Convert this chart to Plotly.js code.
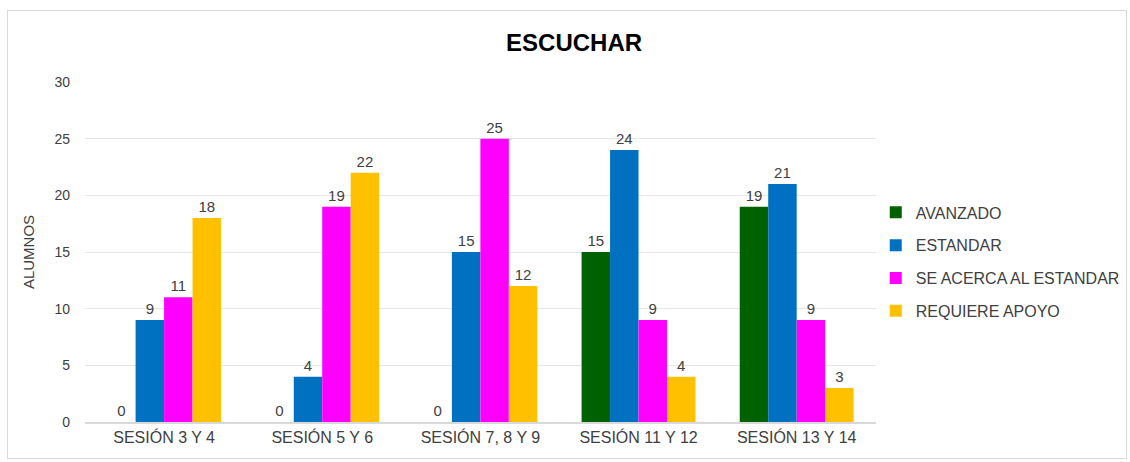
<!DOCTYPE html>
<html>
<head>
<meta charset="utf-8">
<script src="https://cdn.plot.ly/plotly-3.0.1.min.js"></script>
<style>
  html, body { margin: 0; padding: 0; background: #fff; }
  #frame { position: absolute; left: 7px; top: 10px; width: 1120px; height: 449px; border: 1px solid #d9d9d9; box-sizing: border-box; pointer-events: none; z-index: 10; }
  #chart { width: 1130px; height: 462px; }
</style>
</head>
<body>
<div id="frame"></div>
<div id="chart"></div>
<script>
const categories = ["SESIÓN 3 Y 4", "SESIÓN 5 Y 6", "SESIÓN 7, 8 Y 9", "SESIÓN 11 Y 12", "SESIÓN 13 Y 14"];
const seriesNames = ["AVANZADO", "ESTANDAR", "SE ACERCA AL ESTANDAR", "REQUIERE APOYO"];
const avanzado = [0, 0, 0, 15, 19];
const estandar = [9, 4, 15, 24, 21];
const seAcerca = [11, 19, 25, 9, 9];
const requiereApoyo = [18, 22, 12, 4, 3];
const yTicks = [0, 5, 10, 15, 20, 25, 30];

const colors = ["#006100", "#0070C0", "#FF00FF", "#FFC000"];
const values = [avanzado, estandar, seAcerca, requiereApoyo];
const FONT = "Liberation Sans, Arial, sans-serif";

const traces = values.map((v, i) => ({
  type: "bar",
  name: seriesNames[i],
  x: categories,
  y: v,
  text: v.map(String),
  textposition: "outside",
  textfont: { family: FONT, size: 15, color: "#404040" },
  cliponaxis: false,
  marker: { color: colors[i], line: { width: 0 } },
  legendgroup: "g" + i,
  hoverinfo: "x+y+name"
}));

const layout = {
  width: 1130,
  height: 462,
  margin: { l: 85, r: 252, t: 82, b: 40 },
  paper_bgcolor: "#ffffff",
  plot_bgcolor: "#ffffff",
  font: { family: FONT, color: "#404040", size: 14 },
  title: {
    text: "<b>ESCUCHAR</b>",
    font: { family: FONT, size: 24, color: "#000000" },
    x: 0.508, xanchor: "center", y: 0.908, yanchor: "middle"
  },
  barmode: "group",
  bargap: 0.28,
  bargroupgap: 0,
  showlegend: true,
  legend: {
    xref: "container", yref: "container",
    x: 0.775, xanchor: "left", y: 0.433, yanchor: "middle",
    traceorder: "grouped",
    tracegroupgap: 9,
    font: { family: FONT, size: 16, color: "#404040" },
    itemwidth: 30,
    bgcolor: "rgba(0,0,0,0)"
  },
  xaxis: {
    type: "category",
    showgrid: false,
    showline: true,
    linecolor: "#d9d9d9",
    linewidth: 2,
    ticks: "",
    tickfont: { size: 16, color: "#404040" },
    fixedrange: true
  },
  yaxis: {
    range: [0, 30],
    tickvals: yTicks,
    showgrid: true,
    gridcolor: "#e6e6e6",
    gridwidth: 1,
    zeroline: false,
    showline: false,
    ticks: "",
    ticklabelstandoff: 14,
    tickfont: { size: 14, color: "#404040" },
    title: { text: "ALUMNOS", font: { size: 15, color: "#404040" }, standoff: 16 },
    fixedrange: true
  }
};

Plotly.newPlot("chart", traces, layout, { displayModeBar: false, staticPlot: true });
</script>
</body>
</html>
